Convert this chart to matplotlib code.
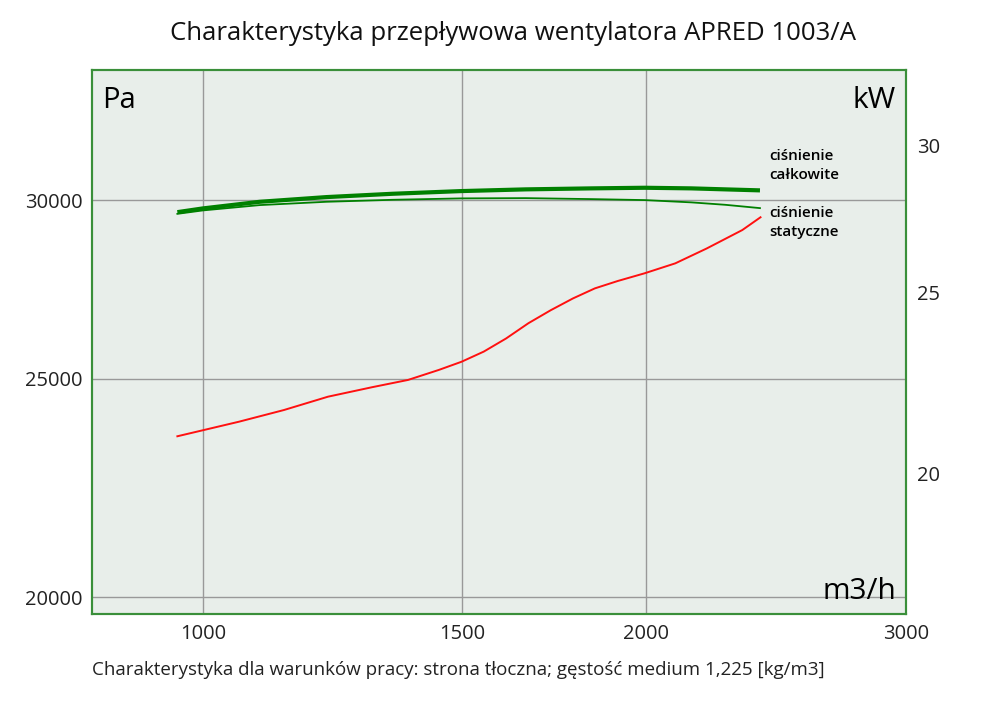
import numpy as np
import matplotlib
matplotlib.use('Agg')
import matplotlib.pyplot as plt
from matplotlib.ticker import FixedLocator, FixedFormatter, NullLocator

plt.rcParams['font.family'] = ['Open Sans', 'DejaVu Sans']

# przeplyw [m3/h] i cisnienie [Pa]
flow_p = [961, 1000, 1093, 1213, 1345, 1497, 1656, 1836, 1994, 2145, 2262, 2388]
p_total = [29633, 29746, 29948, 30092, 30194, 30277, 30330, 30361, 30380, 30361, 30330, 30299]
p_static = [29582, 29685, 29847, 29948, 30009, 30052, 30060, 30030, 30000, 29930, 29856, 29755]

# moc [kW]
flow_n = [961, 1001, 1058, 1135, 1216, 1303, 1378, 1446, 1498, 1551, 1606, 1663,
          1722, 1783, 1845, 1912, 1993, 2092, 2197, 2323, 2390]
power = [20.93, 21.09, 21.31, 21.62, 21.98, 22.24, 22.44, 22.72, 22.95, 23.24, 23.62, 24.07,
         24.46, 24.82, 25.13, 25.36, 25.60, 25.92, 26.40, 27.01, 27.44]

x_ticks = [1000, 1500, 2000, 3000]
y_ticks = [20000, 25000, 30000]
y2_ticks = [20, 25, 30]

caption = 'Charakterystyka dla warunków pracy: strona tłoczna; gęstość medium 1,225 [kg/m3]'

green = '#008000'
frame = '#3a8f3a'

fig = plt.figure(figsize=(10, 7.06), dpi=100)
ax = fig.add_axes([0.092, 0.1303, 0.814, 0.7705])
ax.set_facecolor('#e8eeea')

ax.plot(flow_p, p_total, color=green, lw=3.0, solid_capstyle='butt')
ax.plot(flow_p, p_static, color=green, lw=1.3)

ax.set_xscale('log')
ax.set_yscale('log')
ax.set_xlim(841, 3000)
ax.set_ylim(19660, 34260)
ax.xaxis.set_major_locator(FixedLocator(x_ticks))
ax.xaxis.set_major_formatter(FixedFormatter([str(v) for v in x_ticks]))
ax.xaxis.set_minor_locator(NullLocator())
ax.yaxis.set_major_locator(FixedLocator(y_ticks))
ax.yaxis.set_major_formatter(FixedFormatter([str(v) for v in y_ticks]))
ax.yaxis.set_minor_locator(NullLocator())
ax.grid(True, color='#999999', lw=1.0)
ax.set_axisbelow(True)
ax.tick_params(length=0, labelsize=14.5, pad=7, colors='#222222')

ax2 = ax.twinx()
ax2.plot(flow_n, power, color='#ff1010', lw=1.4)
ax2.set_yscale('log')
ax2.set_ylim(16.80, 32.92)
ax2.yaxis.set_major_locator(FixedLocator(y2_ticks))
ax2.yaxis.set_major_formatter(FixedFormatter([str(v) for v in y2_ticks]))
ax2.yaxis.set_minor_locator(NullLocator())
ax2.tick_params(length=0, labelsize=14.5, pad=8, colors='#222222')

for a in (ax, ax2):
    for s in a.spines.values():
        s.set_color(frame)
        s.set_linewidth(1.5)

ax.text(0.012, 0.97, 'Pa', transform=ax.transAxes, fontsize=21, va='top', ha='left')
ax.text(0.988, 0.97, 'kW', transform=ax.transAxes, fontsize=21.5, va='top', ha='right')
ax.text(0.988, 0.015, 'm3/h', transform=ax.transAxes, fontsize=21.5, va='bottom', ha='right')

ax.text(0.832, 0.855, 'ciśnienie\ncałkowite', transform=ax.transAxes, fontsize=11,
        fontweight='semibold', va='top', ha='left', linespacing=1.45)
ax.text(0.832, 0.75, 'ciśnienie\nstatyczne', transform=ax.transAxes, fontsize=11,
        fontweight='semibold', va='top', ha='left', linespacing=1.45)

fig.text(0.513, 0.953, 'Charakterystyka przepływowa wentylatora APRED 1003/A',
         fontsize=18.5, ha='center', va='center', color='#111111')
fig.text(0.092, 0.051, caption, fontsize=13.5, ha='left', va='center', color='#222222')

fig.savefig('out.png', dpi=100)
